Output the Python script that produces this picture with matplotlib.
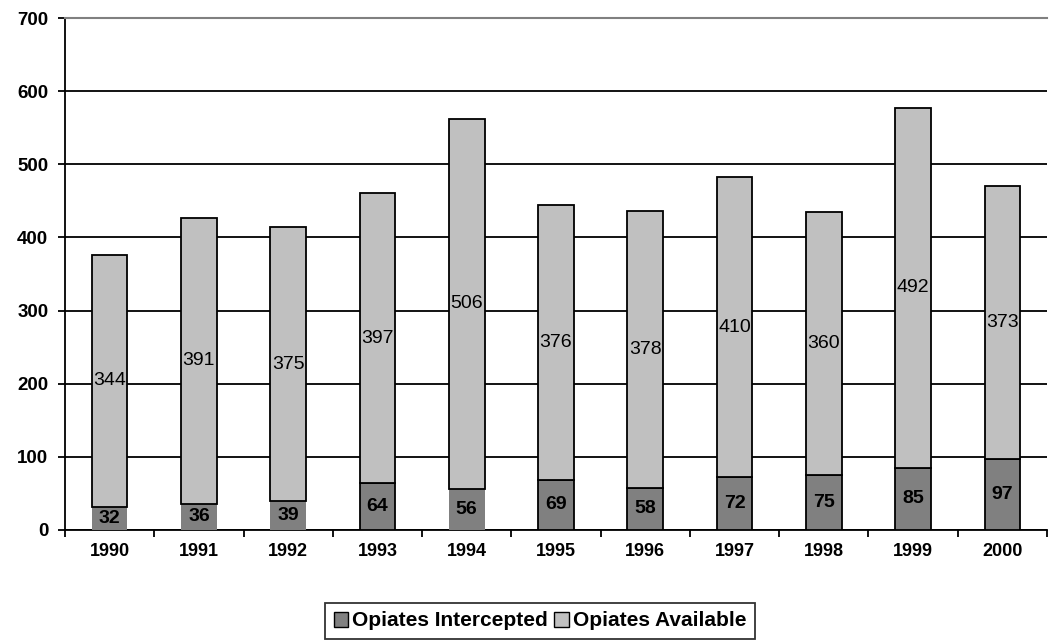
import numpy as np
import matplotlib.pyplot as plt
from matplotlib.patches import Patch

plt.rcParams['font.family'] = ['Liberation Sans', 'DejaVu Sans']

years = ['1990', '1991', '1992', '1993', '1994', '1995', '1996', '1997', '1998', '1999', '2000']
intercepted = [32, 36, 39, 64, 56, 69, 58, 72, 75, 85, 97]
available = [344, 391, 375, 397, 506, 376, 378, 410, 360, 492, 373]

dark = '#808080'
light = '#c0c0c0'

fig = plt.figure(figsize=(10.52, 6.44), dpi=100)
ax = fig.add_axes([65 / 1052, 1 - 530 / 644, 982 / 1052, 512 / 644])

x = np.arange(len(years))
w = 0.4
# in the original some of the lower segments are drawn without outline
no_edge = [0, 1, 2, 4]
bars1 = ax.bar(x, intercepted, w, color=dark, edgecolor='black', linewidth=1.3, zorder=3)
for i in no_edge:
    bars1[i].set_edgecolor('none')
bars2 = ax.bar(x, available, w, bottom=intercepted, color=light, edgecolor='black',
               linewidth=1.3, zorder=3)

for i in range(len(years)):
    ax.text(x[i], intercepted[i] / 2, str(intercepted[i]), ha='center', va='center',
            fontsize=14, fontweight='bold', zorder=4)
    ax.text(x[i], intercepted[i] + available[i] / 2, str(available[i]), ha='center',
            va='center', fontsize=14, zorder=4)

ax.set_xlim(-0.5, len(years) - 0.5)
ax.set_ylim(0, 700)
ax.set_yticks(range(0, 701, 100))
ax.yaxis.grid(True, color='black', linewidth=1.3, zorder=0)
ax.set_axisbelow(True)

ax.set_xticks(np.arange(-0.5, len(years), 1.0))
ax.set_xticklabels([])
ax.set_xticks(x, minor=True)
ax.set_xticklabels(years, minor=True)
ax.tick_params(axis='x', which='major', length=5, width=1.3, direction='out')
ax.tick_params(axis='x', which='minor', length=0, pad=9, labelsize=13)
ax.tick_params(axis='y', length=5, width=1.3, pad=7, labelsize=13.5)
for lab in ax.get_xticklabels(minor=True) + ax.get_yticklabels():
    lab.set_fontweight('bold')

ax.spines['right'].set_visible(False)
ax.spines['top'].set_color('#808080')
ax.spines['top'].set_linewidth(1.5)
ax.spines['left'].set_linewidth(1.3)
ax.spines['bottom'].set_linewidth(1.3)

handles = [Patch(facecolor=dark, edgecolor='black', linewidth=1),
           Patch(facecolor=light, edgecolor='black', linewidth=1)]
leg = fig.legend(handles, ['Opiates Intercepted', 'Opiates Available'], loc='center',
                 bbox_to_anchor=(540 / 1052, 1 - 621 / 644), ncol=2, frameon=True,
                 fancybox=False, edgecolor='black', handlelength=0.7, handleheight=0.7,
                 handletextpad=0.2, columnspacing=0.3, borderpad=0.4,
                 prop={'weight': 'bold', 'size': 15})
leg.get_frame().set_linewidth(1.3)

fig.savefig('out.png', dpi=100)
